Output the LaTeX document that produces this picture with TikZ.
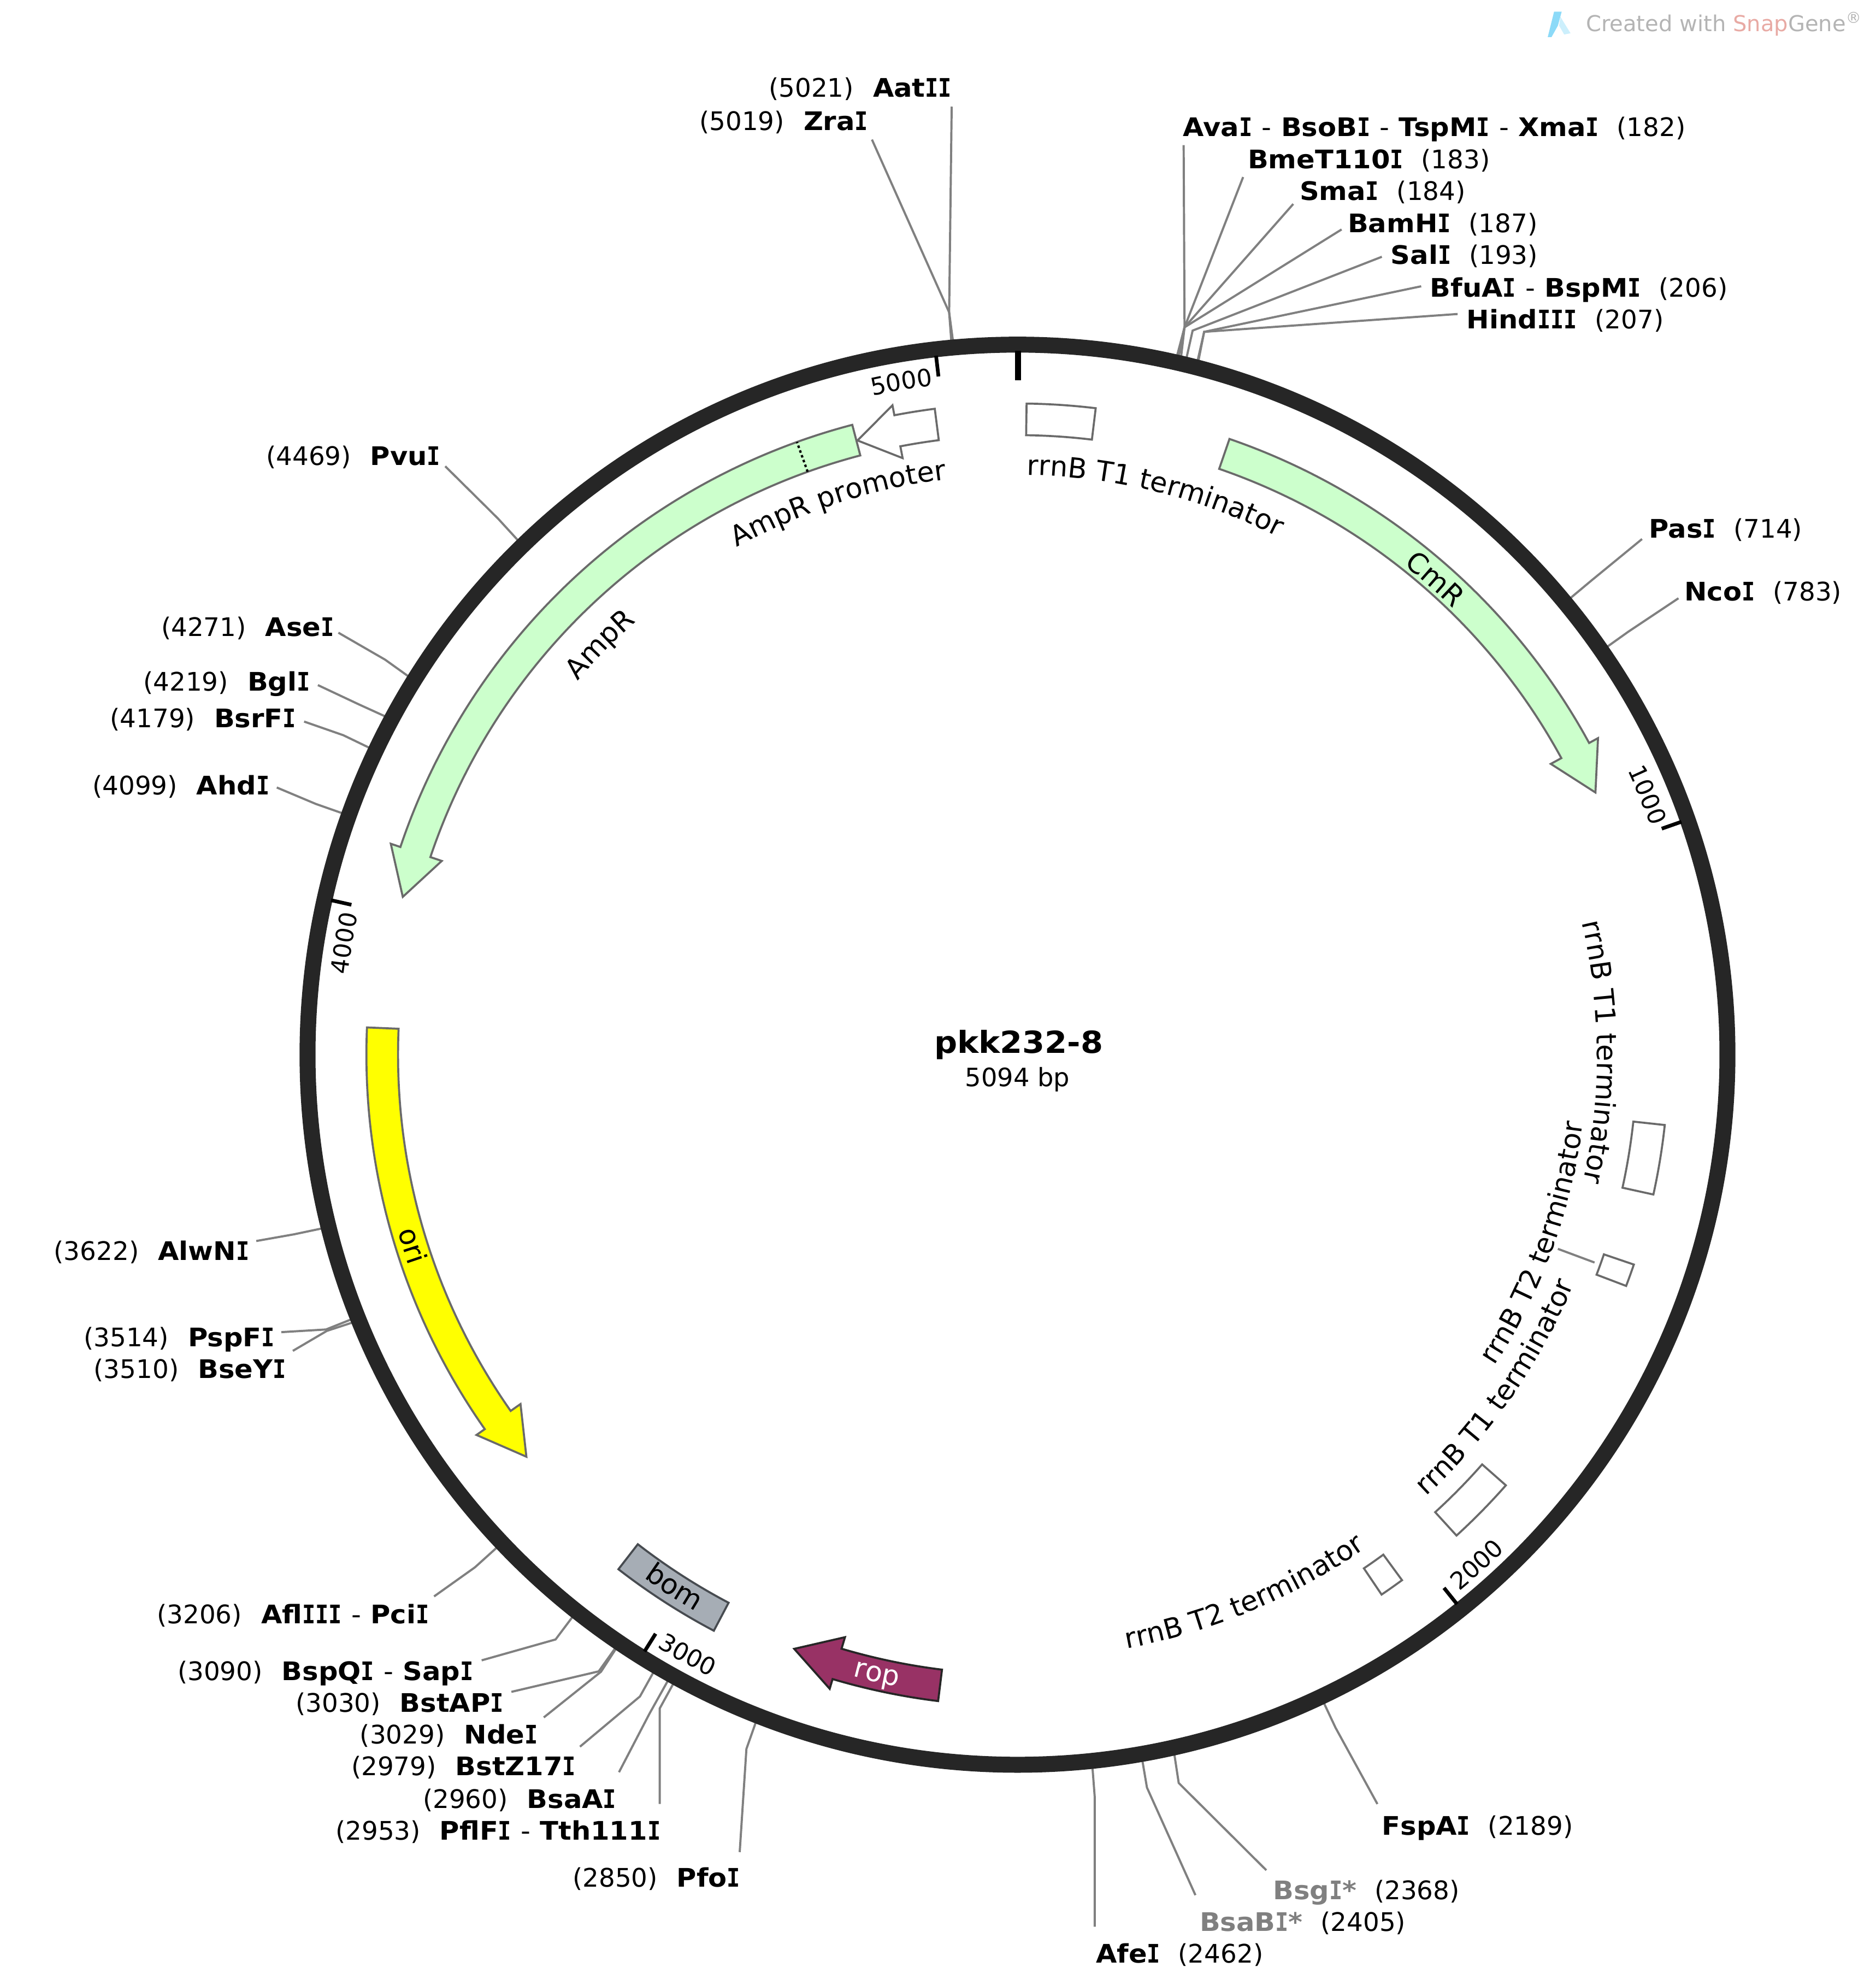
\documentclass[tikz,border=0pt]{standalone}
\usepackage{fontspec}
\setmainfont{DejaVu Sans}
\newfontfamily\bfam[FakeStretch=1.06]{DejaVu Sans}
\newfontfamily\ifam[FakeStretch=0.86]{DejaVu Sans Mono}
\usetikzlibrary{decorations.text}
\definecolor{ringc}{HTML}{262626}
\definecolor{leaderc}{HTML}{808080}
\definecolor{outl}{HTML}{6A6A6A}
\definecolor{green1}{HTML}{CCFFCC}
\definecolor{yell}{HTML}{FFFF00}
\definecolor{bomc}{HTML}{A6ADB5}
\definecolor{bomd}{HTML}{474B50}
\definecolor{ropc}{HTML}{983265}
\definecolor{sgray}{HTML}{B4B4B4}
\definecolor{sred}{HTML}{E8AAA4}
\newcommand{\fL}{\fontsize{20.2}{24}\selectfont}
\newcommand{\fF}{\fontsize{22}{25}\selectfont}
\newcommand{\fN}{\fontsize{19}{22}\selectfont}
\newcommand{\Ib}{{\ifam\bfseries I}}
\newcommand{\hy}{{\mdseries -}}
\tikzset{
  x=1pt,y=1pt,
  leader/.style={draw=leaderc,line width=1.7pt},
  sitelabel/.style={font=\fL,inner sep=0pt,outer sep=0pt},
  featline/.style={draw=outl,line width=1.6pt,line join=miter},
  tickmark/.style={draw=black,line width=2.9pt},
}
% angle on the map: clockwise from the top; centre (804,735) in y-up units
\newcommand{\site}[6]{%
  \pgfmathsetmacro\thS{#2/5094*360}%
  \coordinate (ring#1) at ({804+565*sin(\thS)},{735+565*cos(\thS)});
  \coordinate (knee#1) at (#3,{1568-#4});
  \coordinate (end#1) at (#5,{1568-#6});
  \draw[leader] (ring#1) -- (knee#1) -- (end#1);
}
\newcommand{\labR}[6][black]{\node[sitelabel,anchor=base west] (lab#2) at (#3,{1568-#4}) {{\bfam\bfseries\textcolor{#1}{#5}}\hspace{0.7em}(#6)};}
\newcommand{\labL}[6][black]{\node[sitelabel,anchor=base east] (lab#2) at (#3,{1568-#4}) {(#6)\hspace{0.75em}{\bfam\bfseries\textcolor{#1}{#5}}};}
% text along arcs
\newcommand{\cwtext}[5][]{\path[decorate,decoration={text along path,text align=center,text={|#4#1|#5}}]
  ({804+(#3)*sin(#2-40)},{735+(#3)*cos(#2-40)}) arc[start angle={90-(#2)+40},end angle={90-(#2)-40},radius=#3];}
\newcommand{\ccwtext}[5][]{\path[decorate,decoration={text along path,text align=center,text={|#4#1|#5}}]
  ({804+(#3)*sin(#2+40)},{735+(#3)*cos(#2+40)}) arc[start angle={90-(#2)-40},end angle={90-(#2)+40},radius=#3];}
% arrow feature: start angle, tip angle, head angle (signed), style
\newcommand{\feat}[4]{%
  \pgfmathsetmacro\thB{#2-(#3)}%
  \path[#4] ({804+514.5*sin(#1)},{735+514.5*cos(#1)}) arc[start angle={90-(#1)},end angle={90-\thB},radius=514.5]
    -- ({804+522.5*sin(\thB)},{735+522.5*cos(\thB)}) -- ({804+501.5*sin(#2)},{735+501.5*cos(#2)}) -- ({804+480*sin(\thB)},{735+480*cos(\thB)}) -- ({804+489.5*sin(\thB)},{735+489.5*cos(\thB)})
    arc[start angle={90-\thB},end angle={90-(#1)},radius=489.5] -- cycle;}
% box feature
\newcommand{\boxf}[3]{%
  \path[#3] ({804+514.5*sin(#1)},{735+514.5*cos(#1)}) arc[start angle={90-(#1)},end angle={90-(#2)},radius=514.5]
    -- ({804+489.5*sin(#2)},{735+489.5*cos(#2)}) arc[start angle={90-(#2)},end angle={90-(#1)},radius=489.5] -- cycle;}
\newcommand{\tickm}[1]{\pgfmathsetmacro\thS{#1/5094*360}%
  \draw[tickmark] ({804+556*sin(\thS)},{735+556*cos(\thS)}) -- ({804+539.5*sin(\thS)},{735+539.5*cos(\thS)});}
\begin{document}
\begin{tikzpicture}
\useasboundingbox (0,0) rectangle (1482,1568.3);
% leaders
\site{AatII}{5021}{750}{246.5}{752}{84}
\site{ZraI}{5019}{750}{246.5}{689}{110}
\site{AvaI}{182}{936}{258.3}{935.3}{114.4}
\site{BmeT}{183}{936}{258.3}{982.3}{139.6}
\site{SmaI}{184}{936}{258.3}{1021.9}{160.9}
\site{BamHI}{187}{936}{258.3}{1060.1}{181}
\site{SalI}{193}{942.4}{260.9}{1091.9}{202.6}
\site{BfuAI}{206}{951.5}{261.9}{1123}{225.9}
\site{HindIII}{207}{951.5}{261.9}{1151.8}{247.8}
\site{PasI}{714}{1257.6}{458.3}{1297.5}{425.6}
\site{NcoI}{783}{1286.4}{499}{1326.3}{472.4}
\site{PvuI}{4469}{393.5}{409.4}{351.8}{368.1}
\site{AseI}{4271}{304.3}{520.9}{267.4}{499.6}
\site{BglI}{4219}{283.5}{556.2}{251.2}{541}
\site{BsrFI}{4179}{271.3}{580.6}{240.3}{569.8}
\site{AhdI}{4099}{249.6}{634.9}{218.7}{621.9}
\site{AlwNI}{3622}{232.4}{974.9}{202.5}{980.2}
\site{PspFI}{3514}{257.6}{1050.1}{222.3}{1052.2}
\site{BseYI}{3510}{258.3}{1051.2}{231.4}{1067}
\site{AflIII}{3206}{375.3}{1238}{343}{1261}
\site{BspQI}{3090}{439}{1295}{380.6}{1311.5}
\site{BstAPI}{3030}{473.1}{1320.2}{404.1}{1336.4}
\site{NdeI}{3029}{474.9}{1320.5}{429.7}{1356.6}
\site{BstZ}{2979}{505.7}{1340}{458.3}{1379.7}
\site{BsaAI}{2960}{513}{1354}{489.1}{1399.9}
\site{PflFI}{2953}{521.3}{1349.5}{521.3}{1425}
\site{PfoI}{2850}{589.8}{1381.5}{584.5}{1463}
\site{FspAI}{2189}{1055.3}{1364.7}{1088.4}{1425}
\site{BsgI}{2368}{931.4}{1408.4}{1000.6}{1477.3}
\site{BsaBI}{2405}{906.3}{1412}{944.6}{1497}
\site{AfeI}{2462}{865}{1419}{865}{1522}
% backbone
\draw[draw=ringc,line width=12.6pt] (804,735) circle[radius=561];
\draw[draw=black,line width=5pt] (804.5,{735+556}) -- (804.5,{735+533});
\tickm{1000}\tickm{2000}\tickm{3000}\tickm{4000}\tickm{5000}
% features
\feat{19}{65.6}{4.2}{fill=green1,featline}
\feat{345.3}{284.4}{-4.2}{fill=green1,featline}
\draw[black,line width=1.8pt,dash pattern=on 2pt off 2pt] ({804+489.5*sin(340.2)},{735+489.5*cos(340.2)}) -- ({804+514.5*sin(340.2)},{735+514.5*cos(340.2)});
\feat{352.7}{345.4}{-3.7}{fill=white,featline}
\boxf{0.8}{6.9}{featline}
\boxf{96.2}{102.4}{featline}
\boxf{108.8}{110.8}{featline}
\boxf{131.4}{137.6}{featline}
\boxf{143.8}{146}{featline}
\feat{272.4}{230.7}{-4.2}{fill=yell,featline}
\boxf{207.8}{217.8}{fill=bomc,draw=bomd,line width=1.6pt}
\feat{187}{200.6}{4.1}{fill=ropc,draw=ringc,line width=1.6pt}
\coordinate (t2a) at (1231,{1568-986.4});
\coordinate (t2b) at (1260,{1568-997.2});
\draw[leader] (t2a) -- (t2b);
% curved labels
\cwtext{13.8}{458}{\fF}{rrnB T1 terminator}
\cwtext{342}{458}{\fF}{AmpR promoter}
\cwtext{314.5}{456}{\fF}{AmpR}
\cwtext{41.3}{493}{\fF}{CmR}
\cwtext{89.7}{458}{\fF}{rrnB T1 terminator}
\ccwtext{110}{450}{\fF}{rrnB T2 terminator}
\ccwtext{124.8}{475.5}{\fF}{rrnB T1 terminator}
\ccwtext{157.2}{477}{\fF}{rrnB T2 terminator}
\ccwtext{252.5}{509}{\fF}{ori}
\ccwtext{212.8}{508}{\fF}{bom}
\ccwtext[\color{white}]{192.8}{508}{\fF}{rop}
\cwtext{67.6}{532}{\fN}{1000}
\ccwtext{138}{549}{\fN}{2000}
\ccwtext{208.8}{548}{\fN}{3000}
\cwtext{279.4}{533}{\fN}{4000}
\cwtext{350.2}{533}{\fN}{5000}
% site labels
\labL{AatII}{752}{76.5}{Aat\Ib\Ib}{5021}
\labL{ZraI}{686}{102.5}{Zra\Ib}{5019}
\labR{AvaI}{935}{107.5}{Ava\Ib{} \hy{} BsoB\Ib{} \hy{} TspM\Ib{} \hy{} Xma\Ib}{182}
\labR{BmeT}{986}{132.8}{BmeT110\Ib}{183}
\labR{SmaI}{1027}{158}{Sma\Ib}{184}
\labR{BamHI}{1065}{183.5}{BamH\Ib}{187}
\labR{SalI}{1099}{208.5}{Sal\Ib}{193}
\labR{BfuAI}{1130}{234.3}{BfuA\Ib{} \hy{} BspM\Ib}{206}
\labR{HindIII}{1159}{259.5}{Hind\Ib\Ib\Ib}{207}
\labR{PasI}{1303}{424.5}{Pas\Ib}{714}
\labR{NcoI}{1331}{474.5}{Nco\Ib}{783}
\labL{PvuI}{348}{367.5}{Pvu\Ib}{4469}
\labL{AseI}{264}{502.5}{Ase\Ib}{4271}
\labL{BglI}{245}{545.5}{Bgl\Ib}{4219}
\labL{BsrFI}{234}{574.5}{BsrF\Ib}{4179}
\labL{AhdI}{213}{627.5}{Ahd\Ib}{4099}
\labL{AlwNI}{197}{995.5}{AlwN\Ib}{3622}
\labL{PspFI}{217}{1063.5}{PspF\Ib}{3514}
\labL{BseYI}{226}{1088.5}{BseY\Ib}{3510}
\labL{AflIII}{339}{1282.5}{Afl\Ib\Ib\Ib{} \hy{} Pci\Ib}{3206}
\labL{BspQI}{374}{1327.5}{BspQ\Ib{} \hy{} Sap\Ib}{3090}
\labL{BstAPI}{398}{1352.5}{BstAP\Ib}{3030}
\labL{NdeI}{425}{1377.5}{Nde\Ib}{3029}
\labL{BstZ}{455}{1402.5}{BstZ17\Ib}{2979}
\labL{BsaAI}{487}{1428.5}{BsaA\Ib}{2960}
\labL{PflFI}{522}{1453.5}{PflF\Ib{} \hy{} Tth111\Ib}{2953}
\labL{PfoI}{585}{1490.5}{Pfo\Ib}{2850}
\labR{FspAI}{1092}{1449.5}{FspA\Ib}{2189}
\labR[leaderc]{BsgI}{1006}{1500.5}{Bsg\Ib*}{2368}
\labR[leaderc]{BsaBI}{948}{1525.5}{BsaB\Ib*}{2405}
\labR{AfeI}{866}{1550.4}{Afe\Ib}{2462}
% centre
\node[inner sep=0pt,font=\fontsize{24}{28}\selectfont\bfam\bfseries] (title) at (805,{1568-825}) {pkk232-8};
\node[inner sep=0pt,font=\fontsize{20}{23}\selectfont] (size) at (804,{1568-852.5}) {5094 bp};
% watermark
\fill[fill=cyan!45!white] (1223,{1568-29}) -- (1228,{1568-9}) -- (1234,{1568-9}) -- (1231,{1568-20}) -- (1226,{1568-29}) -- cycle;
\fill[fill=cyan!20!white] (1233,{1568-13}) -- (1241,{1568-26}) -- (1236,{1568-27}) -- (1232,{1568-20}) -- cycle;
\node[inner sep=0pt,anchor=base west,font=\fontsize{17.3}{20}\selectfont,text=sgray] (snap) at (1253,{1568-24.5}) {Created with \textcolor{sred}{Snap}Gene\textsuperscript{®}};
\end{tikzpicture}
\end{document}
